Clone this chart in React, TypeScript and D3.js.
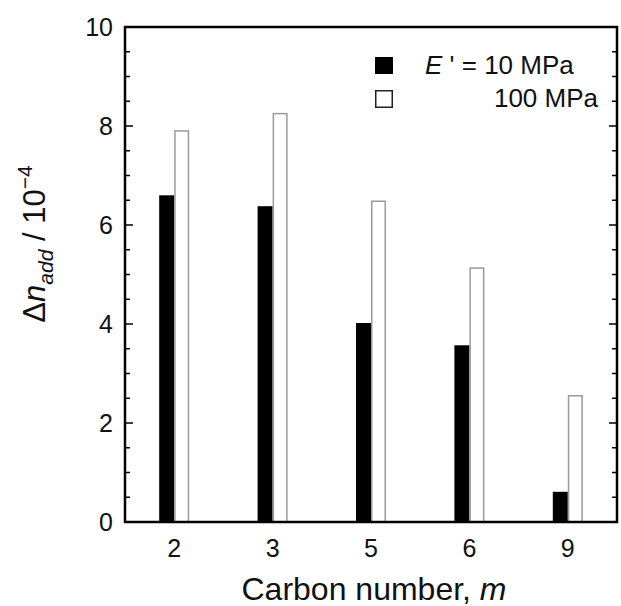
import React from "react";
import * as d3 from "d3";

const categories = ["2", "3", "5", "6", "9"];
const seriesLow = [6.6, 6.38, 4.02, 3.57, 0.61]; // E' = 10 MPa
const seriesHigh = [7.9, 8.25, 6.48, 5.13, 2.55]; // 100 MPa
const yMajorTicks = [0, 2, 4, 6, 8, 10];

const W = 621;
const H = 606;
const M = { left: 125, right: 617, top: 27, bottom: 522 };

export default function App() {
  const x = d3.scaleBand<string>().domain(categories).range([M.left, M.right]).padding(0);
  const sub = d3.scaleBand<string>().domain(["low", "high"]).range([0, 30]).padding(0);
  const y = d3.scaleLinear().domain([0, 10]).range([M.bottom, M.top]);
  const minor = d3.range(0, 10.01, 0.5).filter((v) => !yMajorTicks.includes(v));
  const font = "Liberation Sans, Arial, sans-serif";

  return (
    <svg width={W} height={H} style={{ position: "absolute", left: 0, top: 0 }} fontFamily={font}>
      <rect x={0} y={0} width={W} height={H} fill="#fff" />
      {categories.map((c, i) => {
        const cx = (x(c) as number) + x.bandwidth() / 2 - 15;
        return (
          <g key={c}>
            <rect
              x={cx + (sub("low") as number)}
              y={y(seriesLow[i])}
              width={sub.bandwidth()}
              height={y(0) - y(seriesLow[i])}
              fill="#000"
            />
            <rect
              x={cx + (sub("high") as number) + 0.75}
              y={y(seriesHigh[i])}
              width={sub.bandwidth() - 1.5}
              height={y(0) - y(seriesHigh[i])}
              fill="#fff"
              stroke="#9a9a9a"
              strokeWidth={1.5}
            />
            <text x={(x(c) as number) + x.bandwidth() / 2} y={557} textAnchor="middle" fontSize={25} fill="#111">
              {c}
            </text>
          </g>
        );
      })}
      {yMajorTicks.map((t) => (
        <g key={"M" + t}>
          <line x1={M.left} x2={M.left + 8} y1={y(t)} y2={y(t)} stroke="#000" strokeWidth={1.5} />
          <line x1={M.right} x2={M.right - 8} y1={y(t)} y2={y(t)} stroke="#000" strokeWidth={1.5} />
          <text x={M.left - 12} y={y(t) + 9} textAnchor="end" fontSize={25} fill="#111">
            {t}
          </text>
        </g>
      ))}
      {minor.map((t) => (
        <g key={"m" + t}>
          <line x1={M.left} x2={M.left + 5} y1={y(t)} y2={y(t)} stroke="#000" strokeWidth={1.5} />
          <line x1={M.right} x2={M.right - 5} y1={y(t)} y2={y(t)} stroke="#000" strokeWidth={1.5} />
        </g>
      ))}
      <rect
        x={M.left}
        y={M.top}
        width={M.right - M.left}
        height={M.bottom - M.top}
        fill="none"
        stroke="#000"
        strokeWidth={2.5}
      />
      {/* legend */}
      <rect x={375} y={57} width={18} height={17} fill="#000" />
      <rect x={375.75} y={90.75} width={16.5} height={16.5} fill="#fff" stroke="#222" strokeWidth={1.5} />
      <text x={425} y={74} fontSize={26} fill="#111">
        <tspan fontStyle="italic">E</tspan>
        <tspan> ' = 10 MPa</tspan>
      </text>
      <text x={598} y={107} fontSize={26} fill="#111" textAnchor="end">
        100 MPa
      </text>
      {/* axis titles */}
      <text x={374} y={600} textAnchor="middle" fontSize={32} fill="#111">
        Carbon number, <tspan fontStyle="italic">m</tspan>
      </text>
      <text transform="translate(45,244) rotate(-90)" textAnchor="middle" fontSize={31} fill="#111">
        <tspan>Δ</tspan>
        <tspan fontStyle="italic">n</tspan>
        <tspan fontStyle="italic" fontSize={21} dy={8}>add</tspan>
        <tspan dy={-8}> / 10</tspan>
        <tspan fontSize={21} dy={-13}>−4</tspan>
      </text>
    </svg>
  );
}
